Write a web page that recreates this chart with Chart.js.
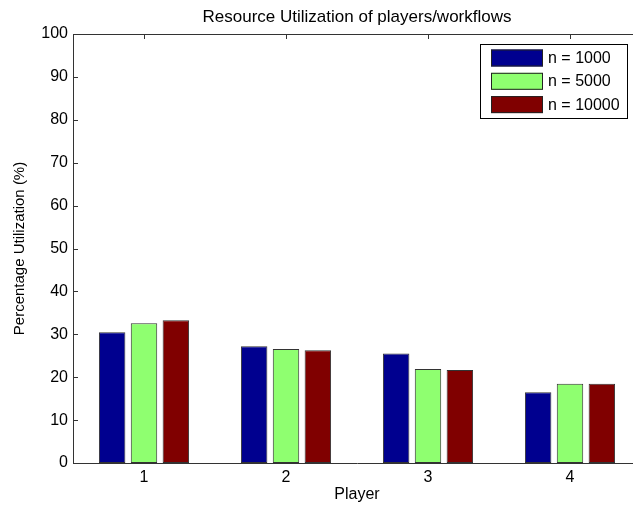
<!DOCTYPE html>
<html>
<head>
<meta charset="utf-8">
<script src="https://cdn.jsdelivr.net/npm/chart.js@4/dist/chart.umd.min.js"></script>
<style>
  html, body { margin: 0; padding: 0; background: #fff; overflow: hidden; }
  #wrap { width: 645px; height: 512px; }
</style>
</head>
<body>
<div id="wrap"><canvas id="c" width="645" height="512"></canvas></div>
<script>
const categories = ['1', '2', '3', '4'];
const seriesLabels = ['n = 1000', 'n = 5000', 'n = 10000'];
const n1000 = [30.5, 27.2, 25.5, 16.5];
const n5000 = [32.6, 26.6, 21.9, 18.5];
const n10000 = [33.3, 26.3, 21.7, 18.5];
const yTicks = [0, 10, 20, 30, 40, 50, 60, 70, 80, 90, 100];
const colors = ['#00008f', '#8fff70', '#800000'];

const FONT = '"Liberation Sans", Arial, Helvetica, sans-serif';
const AXIS = '#333333';

const decor = {
  id: 'decor',
  afterDraw(chart) {
    const ctx = chart.ctx;
    const a = chart.chartArea;
    const xs = chart.scales.x, ys = chart.scales.y;
    ctx.save();
    // title
    ctx.fillStyle = '#000';
    ctx.font = '17px ' + FONT;
    ctx.textAlign = 'center';
    ctx.textBaseline = 'middle';
    ctx.fillText('Resource Utilization of players/workflows', (a.left + a.right) / 2, 17);
    // top border
    ctx.strokeStyle = AXIS;
    ctx.lineWidth = 1;
    ctx.beginPath();
    ctx.moveTo(a.left, a.top + 0.5);
    ctx.lineTo(chart.width, a.top + 0.5);
    ctx.stroke();
    // inward ticks on y
    ctx.beginPath();
    yTicks.forEach(v => {
      const y = Math.round(ys.getPixelForValue(v)) + 0.5;
      ctx.moveTo(a.left, y);
      ctx.lineTo(a.left + 5, y);
    });
    // top ticks at categories
    categories.forEach((c, i) => {
      const x = Math.round(xs.getPixelForValue(i)) + 0.5;
      ctx.moveTo(x, a.top);
      ctx.lineTo(x, a.top + 5);
    });
    ctx.stroke();
    // legend
    const lx = 480.5, ly = 44.5, lw = 147, lh = 74;
    ctx.fillStyle = '#fff';
    ctx.fillRect(lx, ly, lw, lh);
    ctx.strokeStyle = '#000';
    ctx.strokeRect(lx, ly, lw, lh);
    ctx.font = '16px ' + FONT;
    ctx.textAlign = 'left';
    ctx.textBaseline = 'middle';
    chart.data.datasets.forEach((ds, i) => {
      const cy = 57.5 + i * 23.3;
      ctx.fillStyle = ds.backgroundColor;
      ctx.fillRect(491, cy - 8, 52, 17);
      ctx.strokeStyle = '#222';
      ctx.strokeRect(491.5, cy - 8 + 0.5, 51, 16);
      ctx.fillStyle = '#000';
      ctx.fillText(ds.label, 548, cy + 1);
    });
    ctx.restore();
  }
};

new Chart(document.getElementById('c'), {
  type: 'bar',
  data: {
    labels: categories,
    datasets: [
      { label: seriesLabels[0], data: n1000, backgroundColor: colors[0] },
      { label: seriesLabels[1], data: n5000, backgroundColor: colors[1] },
      { label: seriesLabels[2], data: n10000, backgroundColor: colors[2] }
    ].map(d => Object.assign(d, {
      borderColor: '#333333', borderWidth: 1, borderSkipped: false,
      categoryPercentage: 0.673, barPercentage: 0.83
    }))
  },
  options: {
    responsive: false,
    animation: false,
    events: [],
    layout: { padding: { top: 34, right: 4, left: 0, bottom: 0 } },
    plugins: { legend: { display: false }, title: { display: false }, tooltip: { enabled: false } },
    scales: {
      x: {
        grid: { display: false, drawTicks: false },
        border: { display: true, color: AXIS, width: 1 },
        ticks: { color: '#000', font: { family: FONT, size: 16 }, padding: 5, maxRotation: 0 },
        title: { display: true, text: 'Player', color: '#000', font: { family: FONT, size: 16 }, padding: { top: 0, bottom: 8 } },
        afterFit(s) { s.height = 49; }
      },
      y: {
        min: 0, max: 100,
        grid: { display: false, drawTicks: false },
        border: { display: true, color: AXIS, width: 1 },
        afterBuildTicks(s) { s.ticks = yTicks.map(v => ({ value: v })); },
        ticks: { color: '#000', font: { family: FONT, size: 16 }, padding: 5 },
        title: { display: true, text: 'Percentage Utilization (%)', color: '#000', font: { family: FONT, size: 15 }, padding: { top: 11, bottom: 0 } },
        afterFit(s) { s.width = 73; }
      }
    }
  },
  plugins: [decor]
});
</script>
</body>
</html>
